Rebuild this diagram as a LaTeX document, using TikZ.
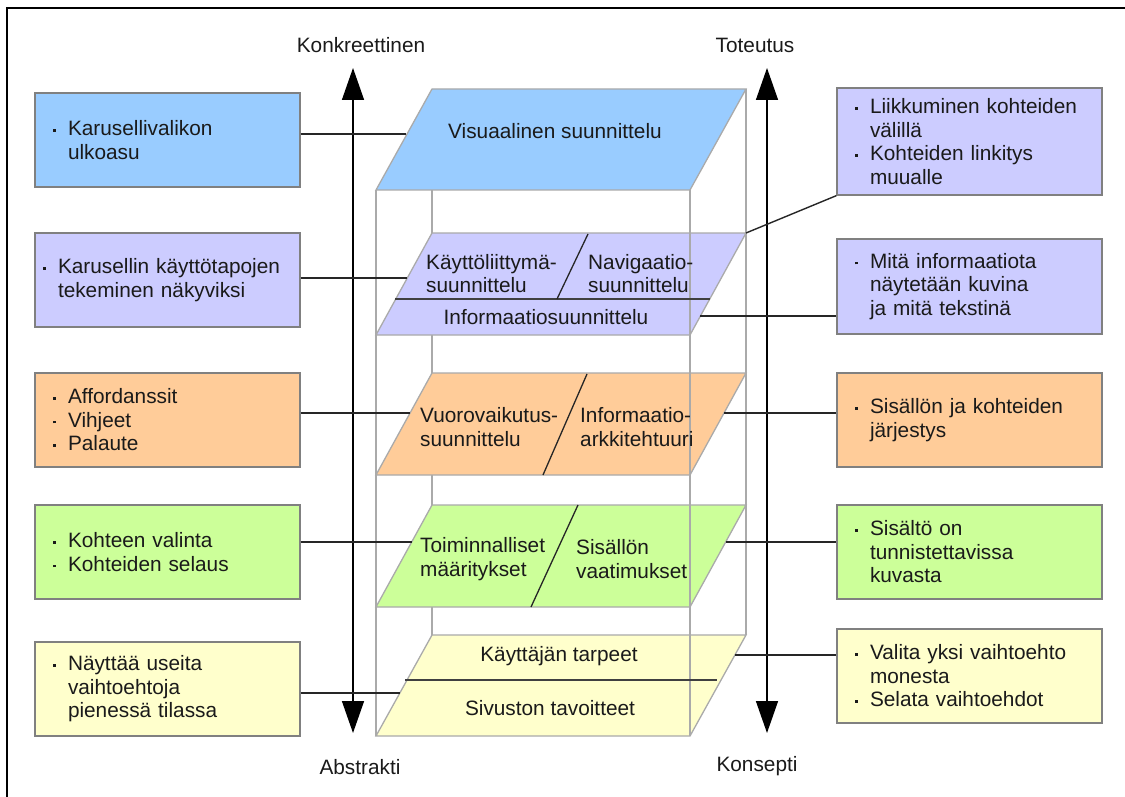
\documentclass[tikz,border=0pt]{standalone}
\usepackage{fontspec}
\setmainfont{Liberation Sans}
\usetikzlibrary{arrows.meta,calc}
\definecolor{cblue}{HTML}{99CCFF}
\definecolor{cpurple}{HTML}{CCCCFF}
\definecolor{corange}{HTML}{FFCC99}
\definecolor{cgreen}{HTML}{CCFF99}
\definecolor{cyellow}{HTML}{FFFFCC}
\definecolor{edgegray}{HTML}{808080}
\definecolor{cubegray}{HTML}{AAAAAA}
\definecolor{txtcol}{HTML}{1A1A1A}
\newcommand\bul{\makebox[15pt][l]{\raisebox{4pt}{\rule{2.6pt}{2.6pt}}}}
\newcommand\ind{\hspace*{15pt}}
\newcommand\plane[3]{\filldraw[planeedge, fill=#1] (376,#3) -- (432,#2) -- (746,#2) -- (690,#3) -- cycle;}
\begin{document}
\begin{tikzpicture}[x=1pt,y=-1pt,
  txt/.style={font=\fontsize{20.8}{23.5}\selectfont, inner sep=0pt, text=txtcol},
  box/.style={draw=edgegray, line width=1.3pt, minimum height=94pt, text width=229pt,
              inner xsep=18pt, inner ysep=0pt, align=left, font=\fontsize{20.8}{23.5}\selectfont, text=txtcol},
  widebox/.style={box, text width=249pt, inner xsep=8pt},
  planeedge/.style={draw=cubegray, line width=1.3pt},
  cube/.style={draw=cubegray, line width=1.5pt},
  conn/.style={draw=black!85, line width=1.4pt},
  axis/.style={draw=black, line width=1.5pt, {Triangle[width=22pt,length=32pt]}-{Triangle[width=22pt,length=32pt]}},
  divh/.style={draw=black!75, line width=2.2pt},
  divs/.style={draw=black!85, line width=1.3pt},
]
\useasboundingbox (0,0) rectangle (1125,797);
\fill[white] (0,0) rectangle (1125,797);
% outer frame (cropped on right and bottom)
\draw[line width=2.2pt] (7,805) -- (7,8) -- (1135,8);

% back edges of the stack
\draw[cube] (432,89) -- (432,635);
\draw[cube] (746,89) -- (746,635);

% planes
\plane{cblue}{89}{190}
\plane{cpurple}{233}{335}
\plane{corange}{373}{475}
\plane{cgreen}{505}{607}
\plane{cyellow}{635}{736}

% front edges
\draw[cube] (376,190) -- (376,736);
\draw[cube] (690,190) -- (690,736);

% dividers
\draw[divh] (395,299) -- (710,299);
\draw[divs] (588,234) -- (557,299);
\draw[divs] (587,374) -- (543,475);
\draw[divs] (578,505) -- (531,607);
\draw[divh] (405,680) -- (717,680);

% plane texts
\node[txt] (vis) at (555,131) {Visuaalinen suunnittelu};
\node[txt, anchor=west, align=left] (kayt) at (426,273.5) {Käyttöliittymä-\\suunnittelu};
\node[txt, anchor=west, align=left] (nav) at (588,273.5) {Navigaatio-\\suunnittelu};
\node[txt] (info) at (546,317) {Informaatiosuunnittelu};
\node[txt, anchor=west, align=left] (vuoro) at (420,427) {Vuorovaikutus-\\suunnittelu};
\node[txt, anchor=west, align=left] (ia) at (580,427) {Informaatio-\\arkkitehtuuri};
\node[txt, anchor=west, align=left] (toim) at (420,559) {Toiminnalliset\\määritykset};
\node[txt, anchor=west, align=left] (sis) at (576,559) {Sisällön\\vaatimukset};
\node[txt] (tarp) at (559,656) {Käyttäjän tarpeet};
\node[txt] (tav) at (550,708) {Sivuston tavoitteet};

% axis labels and arrows
\node[txt] (konk) at (361,45) {Konkreettinen};
\node[txt] (abs) at (360,767) {Abstrakti};
\node[txt] (tot) at (755,45) {Toteutus};
\node[txt] (kons) at (757,766) {Konsepti};
\coordinate (aLt) at (353,68);
\coordinate (aLb) at (353,733);
\coordinate (aRt) at (767,68);
\coordinate (aRb) at (767,733);
\draw[axis] (aLt) -- (aLb);
\draw[axis] (aRt) -- (aRb);

% left boxes
\node[box, fill=cblue] (L1) at (167.5,140) {\bul Karusellivalikon\\\ind ulkoasu};
\node[widebox, fill=cpurple] (L2) at (167.5,280) {\bul Karusellin käyttötapojen\\\ind tekeminen näkyviksi};
\node[box, fill=corange] (L3) at (167.5,420) {\bul Affordanssit\\\bul Vihjeet\\\bul Palaute};
\node[box, fill=cgreen] (L4) at (167.5,552) {\bul Kohteen valinta\\\bul Kohteiden selaus};
\node[box, fill=cyellow] (L5) at (167.5,689) {\bul Näyttää useita\\\ind vaihtoehtoja\\\ind pienessä tilassa};

% right boxes
\node[box, fill=cpurple, minimum height=107pt] (R1) at (969.5,141.5) {\bul Liikkuminen kohteiden\\\ind välillä\\\bul Kohteiden linkitys\\\ind muualle};
\node[box, fill=cpurple, minimum height=95pt] (R2) at (969.5,286.5) {\bul Mitä informaatiota\\\ind näytetään kuvina\\\ind ja mitä tekstinä};
\node[box, fill=corange] (R3) at (969.5,420) {\bul Sisällön ja kohteiden\\\ind järjestys};
\node[box, fill=cgreen] (R4) at (969.5,552) {\bul Sisältö on\\\ind tunnistettavissa\\\ind kuvasta};
\node[box, fill=cyellow] (R5) at (969.5,676) {\bul Valita yksi vaihtoehto\\\ind monesta\\\bul Selata vaihtoehdot};

% connection points on the planes
\coordinate (pL1) at (406,134);
\coordinate (pL2) at (407,278);
\coordinate (pL3) at (410,413);
\coordinate (pL4) at (412,542);
\coordinate (pL5) at (400,693);
\coordinate (pR1) at (746,233);
\coordinate (pR2) at (700,316);
\coordinate (pR3) at (724,413);
\coordinate (pR4) at (726,542);
\coordinate (pR5) at (735,655);

% connectors
\draw[conn] (L1.east |- pL1) -- (pL1);
\draw[conn] (L2.east |- pL2) -- (pL2);
\draw[conn] (L3.east |- pL3) -- (pL3);
\draw[conn] (L4.east |- pL4) -- (pL4);
\draw[conn] (L5.east |- pL5) -- (pL5);
\draw[conn] (R1.south west) -- (pR1);
\draw[conn] (pR2) -- (R2.west |- pR2);
\draw[conn] (pR3) -- (R3.west |- pR3);
\draw[conn] (pR4) -- (R4.west |- pR4);
\draw[conn] (pR5) -- (R5.west |- pR5);
\end{tikzpicture}
\end{document}
